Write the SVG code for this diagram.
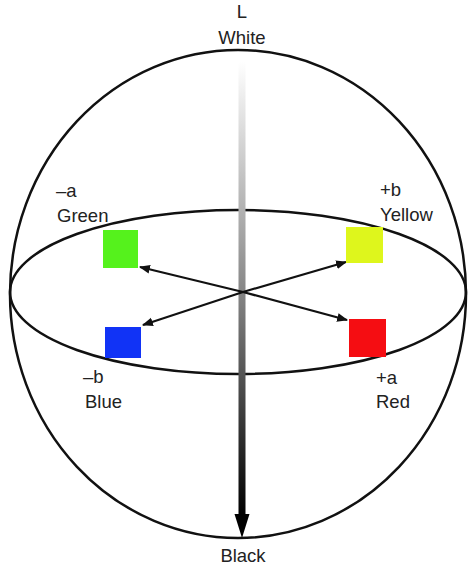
<svg xmlns="http://www.w3.org/2000/svg" width="468" height="569" viewBox="0 0 468 569">
<defs>
<linearGradient id="axis" x1="0" y1="0" x2="0" y2="1">
<stop offset="0" stop-color="#ffffff"/>
<stop offset="0.5" stop-color="#888888"/>
<stop offset="1" stop-color="#000000"/>
</linearGradient>
<marker id="ah" viewBox="0 0 10 10" refX="9" refY="5" markerWidth="5" markerHeight="5" orient="auto-start-reverse" markerUnits="strokeWidth">
<path d="M0,1 L10,5 L0,9 z" fill="#111"/>
</marker>
</defs>
<style>
.lbl{font-family:"Liberation Sans",Arial,sans-serif;font-size:18.5px;fill:#222}
.outline{fill:none;stroke:#111;stroke-width:2.5}
.conn{stroke:#111;stroke-width:2.2;fill:none}
</style>
<rect width="468" height="569" fill="#fff"/>
<g id="sphere">
<ellipse class="outline" cx="238" cy="294" rx="228" ry="244"/>
</g>
<g id="equator">
<ellipse class="outline" cx="238" cy="292" rx="228" ry="82"/>
</g>
<g id="axis-L">
<rect x="238.5" y="62" width="7" height="453" fill="url(#axis)"/>
<path d="M234.5,514 L249.5,514 L242,538 z" fill="#000"/>
</g>
<g id="connectors">
<line class="conn" x1="243" y1="292" x2="140" y2="267" marker-end="url(#ah)"/>
<line class="conn" x1="243" y1="292" x2="346" y2="262" marker-end="url(#ah)"/>
<line class="conn" x1="243" y1="292" x2="143" y2="325" marker-end="url(#ah)"/>
<line class="conn" x1="243" y1="292" x2="347" y2="320" marker-end="url(#ah)"/>
</g>
<g id="node-green"><rect x="103" y="230" width="35" height="38" fill="#55f21c"/></g>
<g id="node-yellow"><rect x="346" y="227" width="37" height="36" fill="#def61c"/></g>
<g id="node-blue"><rect x="105" y="327" width="36" height="31" fill="#1133f6"/></g>
<g id="node-red"><rect x="349" y="319" width="37" height="38" fill="#f50d12"/></g>
<g id="labels">
<text class="lbl" x="242" y="18" text-anchor="middle">L</text>
<text class="lbl" x="242" y="44" text-anchor="middle">White</text>
<text class="lbl" x="56" y="197">–a</text>
<text class="lbl" x="57" y="222">Green</text>
<text class="lbl" x="380" y="196">+b</text>
<text class="lbl" x="380" y="221">Yellow</text>
<text class="lbl" x="83" y="383">–b</text>
<text class="lbl" x="85" y="408">Blue</text>
<text class="lbl" x="376" y="384">+a</text>
<text class="lbl" x="376" y="408">Red</text>
<text class="lbl" x="243" y="562" text-anchor="middle">Black</text>
</g>
</svg>
